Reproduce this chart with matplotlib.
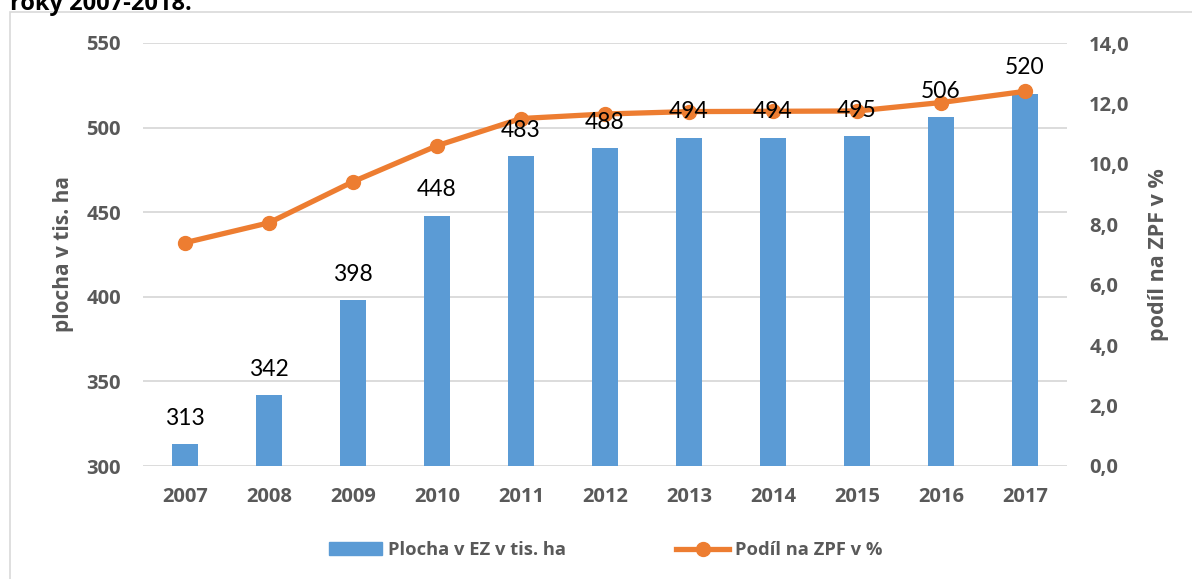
import matplotlib.pyplot as plt
import numpy as np
from matplotlib.patches import Rectangle
from matplotlib.lines import Line2D

# data
years = ["2007", "2008", "2009", "2010", "2011", "2012", "2013", "2014", "2015", "2016", "2017"]
plocha = [313, 342, 398, 448, 483, 488, 494, 494, 495, 506, 520]
podil = [7.39, 8.05, 9.41, 10.6, 11.5, 11.65, 11.73, 11.74, 11.75, 12.03, 12.4]

blue = "#5B9BD5"
orange = "#ED7D31"
gray = "#595959"
bold_font = ["Open Sans", "DejaVu Sans"]
label_font = ["Lato", "DejaVu Sans"]

plt.rcParams['font.family'] = bold_font

fig = plt.figure(figsize=(11.92, 5.79), dpi=100)

# outer chart border (Excel style)
fig.patches.append(Rectangle((10/1192, -0.01), 1.1, 1 - 12/579 + 0.01, transform=fig.transFigure,
                             fill=False, edgecolor="#d9d9d9", linewidth=1.2))
fig.text(0.008, 1.014, "roky 2007-2018.", fontsize=17, fontweight="bold", color="black",
         ha="left", va="top")

ax = fig.add_axes([143/1192, 1 - 466/579, (1067-143)/1192, (466-43)/579])
x = np.arange(len(years))

ax.bar(x, plocha, width=0.32, color=blue, zorder=2)
ax.set_ylim(300, 550)
ax.set_xlim(-0.5, len(years) - 0.5)
ax.set_yticks(np.arange(300, 551, 50))
ax.grid(axis="y", color="#d9d9d9", linewidth=1.3, zorder=0)
ax.set_axisbelow(True)
for s in ax.spines.values():
    s.set_visible(False)
ax.tick_params(length=0, labelsize=14.5, labelcolor=gray, pad=15)
ax.tick_params(axis="y", pad=16)
ax.set_xticks(x)
ax.set_xticklabels(years, fontweight="bold")
for lab in ax.get_yticklabels():
    lab.set_fontweight("bold")
ax.set_ylabel("plocha v tis. ha", fontsize=15, fontweight="bold", color=gray, labelpad=9)

ax2 = ax.twinx()
ax2.plot(x, podil, color=orange, linewidth=3.8, marker="o", markersize=10, zorder=3)
ax2.set_ylim(0, 14)
ax2.set_yticks(np.arange(0, 14.1, 2))
ax2.set_yticklabels([f"{v:.1f}".replace(".", ",") for v in np.arange(0, 14.1, 2)], fontweight="bold")
for s in ax2.spines.values():
    s.set_visible(False)
ax2.tick_params(length=0, labelsize=14.5, labelcolor=gray, pad=16)
ax2.set_ylabel("podíl na ZPF v %", fontsize=15.5, fontweight="bold", color=gray, labelpad=13)

# bar value labels drawn on the top axes so they sit above the line
for xi, v in zip(x, plocha):
    ax2.annotate(str(v), xy=(xi, (v - 300) / 250 * 14), xytext=(0, 11), textcoords="offset points",
                 ha="center", va="bottom", fontsize=16.5, color="black", family=label_font, zorder=5)

handles = [Rectangle((0, 0), 1, 1, color=blue),
           Line2D([0], [0], color=orange, linewidth=3.8, marker="o", markersize=10)]
fig.legend(handles, ["Plocha v EZ v tis. ha", "Podíl na ZPF v %"], loc="center",
           bbox_to_anchor=(606/1192, 1 - 550/579), ncol=2, frameon=False, columnspacing=6.0,
           handlelength=2.9, handletextpad=0.33,
           prop={"family": bold_font, "weight": "bold", "size": 13.2})
for t in fig.legends[0].get_texts():
    t.set_color(gray)

fig.savefig("out.png", dpi=100)
